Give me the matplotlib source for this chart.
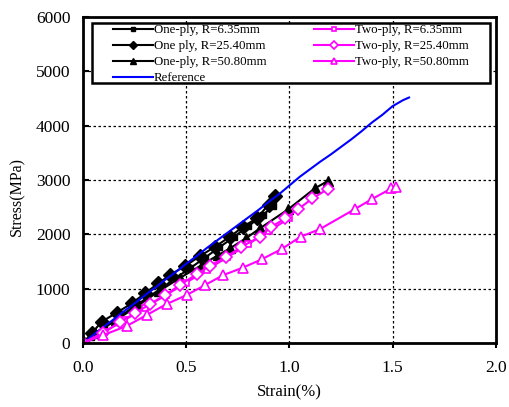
import matplotlib.pyplot as plt
from matplotlib.patches import Rectangle

plt.rcParams['font.family'] = ['Liberation Serif', 'DejaVu Serif']

# strain (%) / stress (MPa)
ref_x = [0, 0.05, 0.1, 0.15, 0.2, 0.25, 0.3, 0.35, 0.4, 0.45, 0.5, 0.55, 0.6,
         0.65, 0.7, 0.75, 0.8, 0.85, 0.9, 0.95, 1.0, 1.05, 1.1, 1.15, 1.2,
         1.25, 1.3, 1.35, 1.4, 1.45, 1.5, 1.55, 1.58]
ref_y = [0, 150, 300, 440, 590, 730, 880, 1020, 1170, 1310, 1460, 1600, 1750,
         1890, 2030, 2170, 2310, 2450, 2600, 2740, 2900, 3060, 3200, 3340, 3470,
         3610, 3750, 3900, 4060, 4200, 4360, 4470, 4520]

one635_x = [0, 0.04, 0.1, 0.17, 0.24, 0.31, 0.38, 0.45, 0.52, 0.59, 0.66, 0.73, 0.8, 0.87, 0.92]
one635_y = [0, 120, 290, 470, 650, 830, 1010, 1200, 1380, 1570, 1760, 1950, 2150, 2350, 2520]

one2540_x = [0, 0.042, 0.09, 0.163, 0.236, 0.3, 0.365, 0.421, 0.494, 0.567, 0.639, 0.712, 0.776, 0.841, 0.9, 0.93]
one2540_y = [0, 178, 392, 558, 730, 914, 1099, 1252, 1417, 1601, 1773, 1957, 2141, 2295, 2550, 2700]

one5080_x = [0, 0.06, 0.16, 0.27, 0.37, 0.47, 0.575, 0.655, 0.712, 0.79, 0.857, 0.994, 1.123, 1.188]
one5080_y = [0, 180, 420, 700, 960, 1200, 1436, 1620, 1743, 1930, 2111, 2461, 2847, 2987]

two635_x = [0, 0.1, 0.2, 0.3, 0.4, 0.5, 0.6, 0.7, 0.8, 0.9, 1.0]
two635_y = [0, 200, 420, 650, 880, 1110, 1350, 1580, 1820, 2060, 2300]

two2540_x = [0, 0.098, 0.179, 0.252, 0.324, 0.397, 0.47, 0.551, 0.615, 0.695, 0.768,
             0.857, 0.913, 0.981, 1.043, 1.112, 1.188]
two2540_y = [0, 184, 392, 546, 718, 884, 1068, 1270, 1423, 1589, 1773,
             1957, 2141, 2295, 2466, 2662, 2840]

two5080_x = [0, 0.098, 0.211, 0.308, 0.405, 0.502, 0.591, 0.679, 0.773, 0.865, 0.962,
             1.054, 1.148, 1.317, 1.4, 1.494, 1.519]
two5080_y = [0, 147, 313, 515, 718, 884, 1067, 1251, 1386, 1540, 1730,
             1957, 2098, 2466, 2650, 2847, 2877]

fig = plt.figure(figsize=(5.09, 4.07), dpi=100)
ax = fig.add_axes([0.163, 0.157, 0.811, 0.801])

ax.plot(one635_x, one635_y, color='black', lw=1.5, marker='s', ms=5,
        label='One-ply, R=6.35mm')
ax.plot(one2540_x, one2540_y, color='black', lw=1.5, marker='D', ms=7,
        label='One ply, R=25.40mm')
ax.plot(one5080_x, one5080_y, color='black', lw=1.5, marker='^', ms=7,
        label='One-ply, R=50.80mm')
ax.plot(ref_x, ref_y, color='#0000ff', lw=1.5, label='Reference')
ax.plot(two635_x, two635_y, color='#ff00ff', lw=1.5, marker='s', ms=5,
        mfc='white', mew=1.2, label='Two-ply, R=6.35mm')
ax.plot(two2540_x, two2540_y, color='#ff00ff', lw=1.5, marker='D', ms=6,
        mfc='white', mew=1.2, label='Two-ply, R=25.40mm')
ax.plot(two5080_x, two5080_y, color='#ff00ff', lw=1.5, marker='^', ms=7,
        mfc='white', mew=1.2, label='Two-ply, R=50.80mm')

ax.set_xlim(0, 2.0)
ax.set_ylim(0, 6000)
ax.set_xticks([0, 0.5, 1.0, 1.5, 2.0])
ax.set_xticklabels(['0.0', '0.5', '1.0', '1.5', '2.0'])
ax.set_yticks(range(0, 7000, 1000))
ax.tick_params(axis='x', direction='out', length=3.5, width=1.5, labelsize=12.5, pad=9)
ax.tick_params(axis='y', direction='in', length=4, width=1.5, labelsize=12.5, pad=9)
ax.grid(True, color='black', linestyle=(0, (2, 2)), lw=0.9)
ax.set_axisbelow(True)
for s in ax.spines.values():
    s.set_linewidth(2)

ax.set_xlabel('Strain(%)', fontsize=12, labelpad=6)
ax.set_ylabel('Stress(MPa)', fontsize=11.5)
ax.yaxis.set_label_coords(-0.14, 0.45)

# legend frame drawn separately (wide side padding, tight top/bottom)
ax.add_patch(Rectangle((0.022, 0.798), 0.963, 0.184, transform=ax.transAxes,
                       facecolor='white', edgecolor='black', lw=1.8, zorder=4))
leg = ax.legend(ncol=2, loc='upper left', bbox_to_anchor=(0.073, 0.978),
                fontsize=9.3, handlelength=3.1, handletextpad=0.05,
                labelspacing=0.3, borderpad=0, columnspacing=3.7,
                markerscale=0.65, frameon=False, borderaxespad=0)
leg.set_zorder(5)

fig.savefig('out.png', dpi=100)
